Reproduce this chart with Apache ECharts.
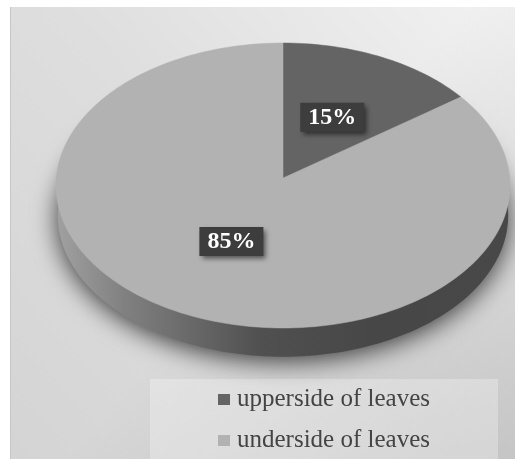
<!DOCTYPE html>
<html><head><meta charset="utf-8">
<style>html,body{margin:0;padding:0;background:#fff}#c{width:515px;height:459px}</style>
<script src="https://cdn.jsdelivr.net/npm/echarts@6/dist/echarts.min.js"></script>
</head><body><div id="c"></div>
<script>
const categories = ['upperside of leaves', 'underside of leaves'];
const shares = [15, 85];
const sliceColors = ['#646464', '#b2b2b2'];

const apex = {x: 283, y: 178};
const tilt = 0.0526, halfW = 226.7, halfH = 142.1, wallDepth = 30;
const labelRadius = 0.49;
const total = shares.reduce((a, b) => a + b, 0);

// A point on the unit disc seen in perspective
function project(r, deg, dy) {
  const t = deg * Math.PI / 180, x = r * Math.sin(t), y = -r * Math.cos(t), d = 1 - tilt * y;
  return [apex.x + halfW * x / d, apex.y + halfH * y / d + (dy || 0)];
}
function sliceRange(i) {
  let s = 0;
  for (let k = 0; k < i; k++) s += shares[k];
  return [s / total * 360, (s + shares[i]) / total * 360];
}
function sliceSeries(i) {
  return {
    type: 'custom', name: categories[i], coordinateSystem: 'none', silent: true, z: 3,
    itemStyle: {color: sliceColors[i]},
    data: [[shares[i]]],
    renderItem: function (p, api) {
      const [a, b] = sliceRange(i), pts = [project(0, 0)];
      const n = Math.ceil((b - a) / 1.5);
      for (let k = 0; k <= n; k++) pts.push(project(1, a + (b - a) * k / n));
      return {type: 'polygon', shape: {points: pts},
        style: {fill: sliceColors[i], stroke: sliceColors[i], lineWidth: 0.5}};
    }
  };
}
function labelSeries(i) {
  return {
    type: 'custom', coordinateSystem: 'none', silent: true, z: 5,
    data: [[shares[i]]],
    renderItem: function (p, api) {
      const [a, b] = sliceRange(i), c = project(labelRadius, (a + b) / 2);
      return {type: 'group', x: c[0], y: c[1], children: [
        {type: 'rect', shape: {x: -32, y: -14.5, width: 64, height: 29},
         style: {fill: '#3d3d3d', shadowColor: 'rgba(0,0,0,0.55)', shadowBlur: 5, shadowOffsetX: 3, shadowOffsetY: 3}},
        {type: 'text', style: {x: 0, y: 0, text: api.value(0) + '%', fill: '#fff', align: 'center', verticalAlign: 'middle',
          font: 'bold 24px "Liberation Serif"'}}
      ]};
    }
  };
}
const wallSeries = {
  type: 'custom', coordinateSystem: 'none', silent: true, z: 2,
  data: [[0]],
  renderItem: function () {
    const pts = [];
    for (let k = 0; k < 240; k++) {
      const q = project(0.992, k * 1.5, wallDepth);
      pts.push(q);
    }
    return {type: 'polygon', shape: {points: pts}, style: {
      fill: {type: 'linear', x: 0, y: 0, x2: 1, y2: 0, colorStops: [
        {offset: 0, color: '#a0a0a0'}, {offset: 0.15, color: '#808080'}, {offset: 0.45, color: '#505050'}, {offset: 0.7, color: '#474747'}, {offset: 1, color: '#484848'}]},
      shadowColor: 'rgba(0,0,0,0.75)', shadowBlur: 26, shadowOffsetY: 4}};
  }
};

const chart = echarts.init(document.getElementById('c'), null, {renderer: 'canvas'});
chart.setOption({
  animation: false,
  backgroundColor: '#ffffff',
  graphic: [
    {type: 'rect', z: -10, shape: {x: 10, y: 7, width: 505, height: 452}, style: {
      fill: {type: 'linear', x: 0, y: 1, x2: 1, y2: 0, colorStops: [
        {offset: 0, color: '#d4d4d4'}, {offset: 0.5, color: '#dedede'}, {offset: 1, color: '#f2f2f2'}]}}},
    {type: 'rect', z: -9.5, shape: {x: 10, y: 7, width: 505, height: 452}, style: {
      fill: {type: 'linear', x: 0, y: 0, x2: 1, y2: 1, colorStops: [
        {offset: 0, color: 'rgba(0,0,0,0)'}, {offset: 0.5, color: 'rgba(0,0,0,0)'}, {offset: 1, color: 'rgba(0,0,0,0.12)'}]}}},
    {type: 'rect', z: -9, shape: {x: 10, y: 7, width: 1, height: 452}, style: {fill: '#c6c6c6'}},
    {type: 'rect', z: -8, shape: {x: 150, y: 379, width: 348, height: 80}, style: {fill: 'rgba(255,255,255,0.28)'}}
  ],
  legend: {
    orient: 'vertical', left: 213, top: 382, itemWidth: 12, itemHeight: 11, itemGap: 16, selectedMode: false,
    icon: 'rect',
    data: categories,
    textStyle: {fontFamily: 'Liberation Serif', fontSize: 25, color: '#444', padding: [0, 0, 0, 2]}
  },
  series: [wallSeries, sliceSeries(0), sliceSeries(1), labelSeries(0), labelSeries(1)]
});
</script></body></html>
